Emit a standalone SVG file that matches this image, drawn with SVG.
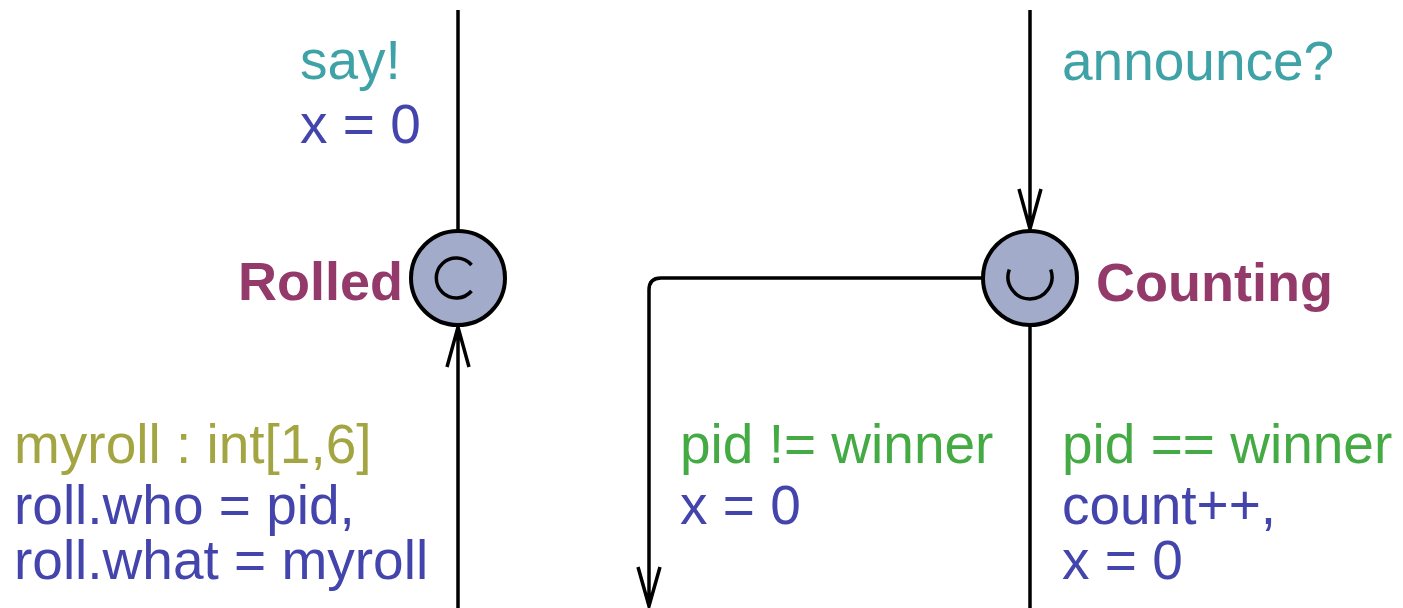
<svg xmlns="http://www.w3.org/2000/svg" width="1403" height="608" viewBox="0 0 1403 608">
<style>
  text { font-family: "Liberation Sans", Arial, sans-serif; font-size: 55px; }
  .sync { fill: #3fa2a6; }
  .assign { fill: #4444ad; }
  .guard { fill: #44aa44; }
  .select { fill: #a3a542; }
  .name { fill: #943a6a; font-weight: bold; font-size: 54px; }
  .edge { fill: none; stroke: #000; stroke-width: 3.5; }
  .loc { fill: #a3abcb; stroke: #000; stroke-width: 4; }
  .mark { fill: none; stroke: #000; stroke-width: 3.5; }
</style>
<rect width="1403" height="608" fill="#fff"/>
<g id="connectors">
  <path class="edge" d="M458,10 L458,231"/>
  <path class="edge" d="M458,608 L458,327 M447,367 L458,327 L469,367"/>
  <path class="edge" d="M1030,10 L1030,229 M1019,189 L1030,229 L1041,189"/>
  <path class="edge" d="M983,278 L661,278 Q649,278 649,290 L649,606 M638,567 L649,606 L660,567"/>
  <path class="edge" d="M1030,325 L1030,608"/>
</g>
<g id="labels">
  <text class="sync" x="300" y="79">say!</text>
  <text class="assign" x="300" y="143">x = 0</text>
  <text class="sync" x="1062" y="80">announce?</text>
  <text class="select" x="14" y="463">myroll : int[1,6]</text>
  <text class="assign" x="14" y="524">roll.who = pid,</text>
  <text class="assign" x="14" y="579">roll.what = myroll</text>
  <text class="guard" x="680" y="463">pid != winner</text>
  <text class="assign" x="680" y="524">x = 0</text>
  <text class="guard" x="1062" y="463">pid == winner</text>
  <text class="assign" x="1062" y="524">count++,</text>
  <text class="assign" x="1062" y="579">x = 0</text>
</g>
<g id="Rolled">
  <circle class="loc" cx="458" cy="278" r="47"/>
  <path class="mark" d="M471.5,265 A20,20 0 1 0 471.5,291"/>
  <text class="name" x="403" y="300" text-anchor="end">Rolled</text>
</g>
<g id="Counting">
  <circle class="loc" cx="1030" cy="278" r="47"/>
  <path class="mark" d="M1009.3,269.5 A22,22 0 1 0 1050.7,269.5"/>
  <text class="name" x="1096" y="301">Counting</text>
</g>
</svg>
